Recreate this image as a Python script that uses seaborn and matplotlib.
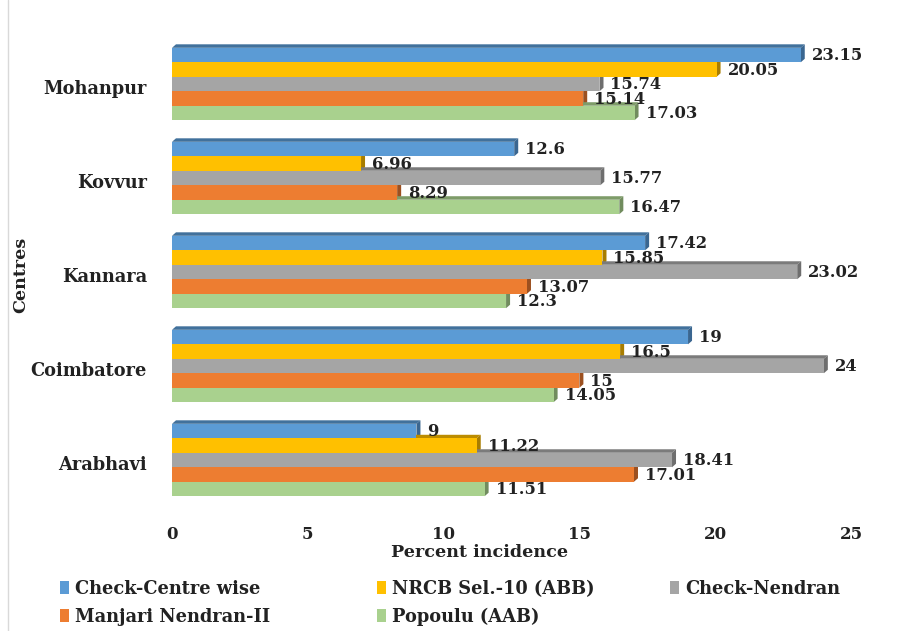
import matplotlib
matplotlib.use("Agg")
import matplotlib.pyplot as plt
from matplotlib.patches import Polygon, Patch
from matplotlib.lines import Line2D
from matplotlib.transforms import ScaledTranslation
import seaborn as sns
import pandas as pd

centres = ["Mohanpur", "Kovvur", "Kannara", "Coimbatore", "Arabhavi"]
series = ["Check-Centre wise", "NRCB Sel.-10 (ABB)", "Check-Nendran",
          "Manjari Nendran-II", "Popoulu (AAB)"]
check_centre = [23.15, 12.6, 17.42, 19, 9]
nrcb_sel10 = [20.05, 6.96, 15.85, 16.5, 11.22]
check_nendran = [15.74, 15.77, 23.02, 24, 18.41]
manjari = [15.14, 8.29, 13.07, 15, 17.01]
popoulu = [17.03, 16.47, 12.3, 14.05, 11.51]
xticks = [0, 5, 10, 15, 20, 25]

front = ["#5B9BD5", "#FFC000", "#A5A5A5", "#ED7D31", "#A9D18E"]
top = ["#41719C", "#BC8C00", "#7B7B7B", "#AE5A21", "#7E9C69"]
side = ["#3A6690", "#A87D00", "#6E6E6E", "#9C5020", "#718C5E"]

rows = []
for name, vals in zip(series, [check_centre, nrcb_sel10, check_nendran, manjari, popoulu]):
    for c, v in zip(centres, vals):
        rows.append({"Centre": c, "Series": name, "Value": v})
df = pd.DataFrame(rows)

sns.set_style("white")
plt.rcParams["font.family"] = ["DejaVu Serif"]
plt.rcParams["font.weight"] = "bold"
txt = "#222222"

fig = plt.figure(figsize=(9.04, 6.31), dpi=100)
ax = fig.add_axes([172 / 904, 1 - 507 / 631, 679 / 904, 470 / 631])
sns.barplot(data=df, y="Centre", x="Value", hue="Series", order=centres,
            hue_order=series, palette=front, orient="h", width=0.77,
            saturation=1, linewidth=0, errorbar=None, ax=ax)
ax.get_legend().remove()
ax.set_xlim(0, 25)
ax.set_ylim(len(centres) - 0.5, -0.5)

# pseudo-3D depth faces and value labels
px_x = 679 / 25.0
px_y = 470 / 5.0
dx = 4 / px_x
dy = 3.5 / px_y
for i, name in enumerate(series):
    cont = ax.containers[i]
    for bar, v in zip(cont, df[df.Series == name]["Value"]):
        x0 = bar.get_x()
        x1 = x0 + bar.get_width()
        yt = bar.get_y()
        yb = yt + bar.get_height()
        bar.set_zorder(3)
        ax.add_patch(Polygon([(x0, yt), (x1, yt), (x1 + dx, yt - dy), (x0 + dx, yt - dy)],
                             closed=True, facecolor=top[i], edgecolor="none", zorder=2))
        ax.add_patch(Polygon([(x1, yt), (x1 + dx, yt - dy), (x1 + dx, yb - dy), (x1, yb)],
                             closed=True, facecolor=side[i], edgecolor="none", zorder=2))
        ax.text(x1 + dx + 7 / px_x, (yt + yb) / 2 + 0.01, f"{v:g}", ha="left", va="center",
                fontsize=11.8, fontweight="bold", color=txt, zorder=4)

for s in ax.spines.values():
    s.set_visible(False)
ax.set_xticks(xticks)
ax.set_xticklabels([str(t) for t in xticks], fontsize=12, fontweight="bold", color=txt)
ax.tick_params(axis="x", length=0, pad=14)
ax.tick_params(axis="y", length=0, pad=18)
shift = ScaledTranslation(0, -3 / 100, fig.dpi_scale_trans)
for lbl in ax.get_yticklabels():
    lbl.set_fontsize(12.8)
    lbl.set_fontweight("bold")
    lbl.set_color(txt)
    lbl.set_transform(lbl.get_transform() + shift)
ax.set_xlabel("Percent incidence", fontsize=12.6, fontweight="bold", color=txt)
ax.xaxis.set_label_coords((480 - 172) / 679, (507 - 544) / 470)
ax.set_ylabel("Centres", fontsize=12.6, fontweight="bold", color=txt)
ax.yaxis.set_label_coords((29 - 172) / 679, (507 - 275) / 470)

# legend: three columns placed side by side
handles = [Patch(facecolor=c, edgecolor="none") for c in front]
columns = [([0, 3], 60), ([1, 4], 377), ([2], 670)]
for idx, xpos in columns:
    leg = fig.legend([handles[k] for k in idx], [series[k] for k in idx],
                     loc="upper left", bbox_to_anchor=(xpos / 904, 1 - 580 / 631),
                     frameon=False, handlelength=0.5, handleheight=0.75, handletextpad=0.35,
                     labelspacing=0.55, borderpad=0, borderaxespad=0,
                     prop={"family": "DejaVu Serif", "weight": "bold", "size": 12.8})
    for t in leg.get_texts():
        t.set_color(txt)

fig.add_artist(Line2D([8 / 904, 8 / 904], [0, 1], color="#D9D9D9", lw=1))
fig.savefig("out.png", dpi=100, facecolor="white")
